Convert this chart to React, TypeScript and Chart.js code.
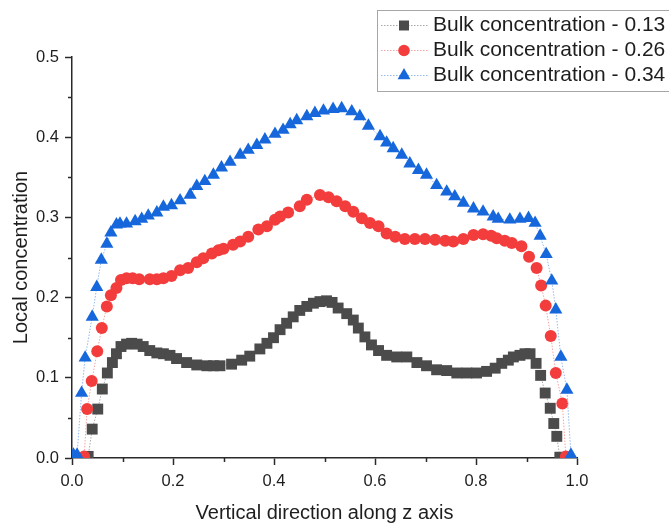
import React, { useEffect, useRef } from "react";
import { Chart, registerables } from "chart.js";

Chart.register(...registerables);

// ---------------- data ----------------
const seriesLabels = [
  "Bulk concentration - 0.13",
  "Bulk concentration - 0.26",
  "Bulk concentration - 0.34",
];

const grayX = [0.032, 0.040, 0.051, 0.060, 0.070, 0.080, 0.088, 0.097, 0.108, 0.118, 0.129, 0.141, 0.154, 0.168, 0.181, 0.194, 0.207, 0.227, 0.247, 0.267, 0.280, 0.293, 0.316, 0.336, 0.352, 0.372, 0.386, 0.399, 0.412, 0.425, 0.438, 0.451, 0.465, 0.478, 0.491, 0.504, 0.515, 0.527, 0.544, 0.557, 0.567, 0.580, 0.593, 0.607, 0.623, 0.643, 0.663, 0.683, 0.702, 0.722, 0.742, 0.762, 0.782, 0.801, 0.821, 0.838, 0.851, 0.864, 0.874, 0.887, 0.897, 0.907, 0.919, 0.928, 0.937, 0.947, 0.954, 0.960, 0.966];
const grayY = [0.002, 0.036, 0.061, 0.086, 0.106, 0.119, 0.130, 0.139, 0.142, 0.143, 0.142, 0.139, 0.134, 0.131, 0.130, 0.128, 0.124, 0.119, 0.116, 0.115, 0.115, 0.115, 0.117, 0.122, 0.127, 0.136, 0.143, 0.150, 0.160, 0.168, 0.176, 0.184, 0.189, 0.193, 0.195, 0.196, 0.194, 0.187, 0.180, 0.172, 0.162, 0.151, 0.141, 0.134, 0.128, 0.126, 0.126, 0.119, 0.115, 0.110, 0.109, 0.106, 0.106, 0.106, 0.108, 0.112, 0.118, 0.122, 0.126, 0.128, 0.130, 0.130, 0.118, 0.103, 0.081, 0.062, 0.043, 0.027, 0.001];

const redX = [0.024, 0.030, 0.039, 0.050, 0.059, 0.069, 0.077, 0.088, 0.097, 0.108, 0.120, 0.133, 0.154, 0.168, 0.181, 0.197, 0.214, 0.230, 0.247, 0.260, 0.277, 0.290, 0.300, 0.319, 0.333, 0.349, 0.369, 0.386, 0.402, 0.412, 0.428, 0.451, 0.465, 0.491, 0.508, 0.524, 0.541, 0.557, 0.574, 0.590, 0.607, 0.623, 0.640, 0.659, 0.679, 0.699, 0.719, 0.739, 0.755, 0.775, 0.795, 0.814, 0.830, 0.841, 0.857, 0.871, 0.890, 0.905, 0.920, 0.929, 0.938, 0.948, 0.958, 0.971, 0.978];
const redY = [0.002, 0.061, 0.096, 0.133, 0.162, 0.189, 0.203, 0.212, 0.222, 0.224, 0.224, 0.223, 0.223, 0.223, 0.224, 0.227, 0.234, 0.237, 0.244, 0.249, 0.255, 0.259, 0.261, 0.266, 0.270, 0.276, 0.285, 0.289, 0.297, 0.301, 0.306, 0.314, 0.322, 0.328, 0.325, 0.320, 0.314, 0.307, 0.299, 0.293, 0.289, 0.280, 0.276, 0.273, 0.273, 0.273, 0.272, 0.271, 0.270, 0.273, 0.278, 0.279, 0.277, 0.274, 0.271, 0.268, 0.264, 0.251, 0.237, 0.215, 0.190, 0.152, 0.106, 0.068, 0.002];

const blueX = [0.003, 0.010, 0.019, 0.026, 0.040, 0.049, 0.058, 0.069, 0.077, 0.088, 0.095, 0.108, 0.125, 0.138, 0.151, 0.168, 0.181, 0.197, 0.214, 0.234, 0.247, 0.263, 0.280, 0.296, 0.313, 0.333, 0.349, 0.366, 0.382, 0.402, 0.418, 0.432, 0.445, 0.465, 0.481, 0.498, 0.517, 0.534, 0.554, 0.570, 0.587, 0.610, 0.623, 0.636, 0.653, 0.669, 0.686, 0.702, 0.722, 0.742, 0.758, 0.775, 0.795, 0.814, 0.834, 0.844, 0.867, 0.887, 0.904, 0.917, 0.927, 0.939, 0.950, 0.958, 0.968, 0.980, 0.988];
const blueY = [0.004, 0.004, 0.081, 0.125, 0.176, 0.213, 0.247, 0.267, 0.281, 0.291, 0.292, 0.292, 0.295, 0.298, 0.302, 0.306, 0.313, 0.315, 0.321, 0.328, 0.339, 0.345, 0.353, 0.362, 0.369, 0.378, 0.384, 0.390, 0.397, 0.404, 0.409, 0.416, 0.421, 0.426, 0.430, 0.433, 0.435, 0.436, 0.432, 0.426, 0.414, 0.401, 0.393, 0.386, 0.378, 0.367, 0.359, 0.353, 0.340, 0.332, 0.326, 0.318, 0.311, 0.307, 0.301, 0.298, 0.297, 0.298, 0.299, 0.293, 0.277, 0.254, 0.221, 0.185, 0.126, 0.085, 0.004];

const xTickLabels = ["0.0", "0.2", "0.4", "0.6", "0.8", "1.0"];
const yTickLabels = ["0.0", "0.1", "0.2", "0.3", "0.4", "0.5"];

// ---------------- styles ----------------
const FONT = '"Liberation Sans", Arial, Helvetica, sans-serif';
const markerColors = ["#4b4b4b", "#f33d3d", "#1767dc"];
const lineColors = ["#a8a8a8", "#f5a3a3", "#93b8f0"];
const pointStyles = ["rect", "circle", "triangle"];
const pointRadii = [7.7, 6, 7.6];
const AXIS = "#2a2a2a";

function drawMarker(ctx: CanvasRenderingContext2D, style: string, x: number, y: number, color: string) {
  ctx.fillStyle = color;
  ctx.beginPath();
  if (style === "rect") {
    ctx.rect(x - 5, y - 5, 10, 10);
  } else if (style === "circle") {
    ctx.arc(x, y, 5.8, 0, Math.PI * 2);
  } else {
    const r = 7.4;
    ctx.moveTo(x, y - r);
    ctx.lineTo(x + r * Math.sin(Math.PI / 3), y + r / 2);
    ctx.lineTo(x - r * Math.sin(Math.PI / 3), y + r / 2);
    ctx.closePath();
  }
  ctx.fill();
}

const legendPlugin = {
  id: "boxLegend",
  afterDraw(chart: any) {
    const ctx: CanvasRenderingContext2D = chart.ctx;
    ctx.save();
    ctx.strokeStyle = "#a6a6a6";
    ctx.lineWidth = 1;
    ctx.strokeRect(377.5, 10.5, 300, 81);
    seriesLabels.forEach((label, i) => {
      const y = 25.5 + i * 25;
      ctx.save();
      ctx.setLineDash([1.5, 1.5]);
      ctx.strokeStyle = lineColors[i];
      ctx.lineWidth = 1;
      ctx.beginPath();
      ctx.moveTo(381, y);
      ctx.lineTo(428, y);
      ctx.stroke();
      ctx.restore();
      drawMarker(ctx, pointStyles[i], 404, y, markerColors[i]);
      ctx.fillStyle = "#1e1e1e";
      ctx.font = `21px ${FONT}`;
      ctx.textBaseline = "middle";
      ctx.textAlign = "left";
      ctx.fillText(label, 433, y);
    });
    ctx.restore();
  },
};

const isMajor = (v: number, step: number) => Math.abs(v / step - Math.round(v / step)) < 1e-6;

const minorTickPlugin = {
  id: "minorTicks",
  afterDraw(chart: any) {
    const ctx: CanvasRenderingContext2D = chart.ctx;
    const xs = chart.scales.x;
    const ys = chart.scales.y;
    ctx.save();
    ctx.strokeStyle = AXIS;
    ctx.lineWidth = 1.5;
    ctx.beginPath();
    xs.ticks.forEach((t: any) => {
      if (!isMajor(t.value, 0.2)) {
        const px = Math.round(xs.getPixelForValue(t.value)) + 0.5;
        ctx.moveTo(px, xs.top);
        ctx.lineTo(px, xs.top + 4);
      }
    });
    ys.ticks.forEach((t: any) => {
      if (!isMajor(t.value, 0.1)) {
        const py = Math.round(ys.getPixelForValue(t.value)) + 0.5;
        ctx.moveTo(ys.right, py);
        ctx.lineTo(ys.right - 4, py);
      }
    });
    ctx.stroke();
    ctx.restore();
  },
};

function makeData(xs: number[], ys: number[]) {
  return xs.map((x, i) => ({ x, y: ys[i] }));
}

export default function App() {
  const ref = useRef<HTMLCanvasElement | null>(null);

  useEffect(() => {
    document.body.style.margin = "0";
    const canvas = ref.current;
    if (!canvas) return;
    const sets = [
      makeData(grayX, grayY),
      makeData(redX, redY),
      makeData(blueX, blueY),
    ];
    const chart = new Chart(canvas, {
      type: "scatter",
      data: {
        datasets: sets.map((d, i) => ({
          label: seriesLabels[i],
          data: d,
          showLine: true,
          borderColor: lineColors[i],
          borderWidth: 1,
          borderDash: [1.5, 1.5],
          backgroundColor: markerColors[i],
          pointStyle: pointStyles[i] as any,
          pointRadius: pointRadii[i],
          pointBackgroundColor: markerColors[i],
          pointBorderColor: markerColors[i],
          pointBorderWidth: 0,
          pointHoverRadius: pointRadii[i],
          order: 3 - i,
        })),
      },
      options: {
        animation: false,
        responsive: false,
        devicePixelRatio: 1,
        events: [],
        layout: { padding: { left: 0, top: 57, right: 92, bottom: 0 } },
        plugins: {
          legend: { display: false },
          tooltip: { enabled: false },
          title: { display: false },
        },
        scales: {
          x: {
            type: "linear",
            min: 0,
            max: 1,
            afterFit: (s: any) => {
              s.height = 68;
            },
            border: { display: true, color: AXIS, width: 1.5 },
            grid: {
              display: true,
              drawOnChartArea: false,
              drawTicks: true,
              tickLength: 7,
              tickWidth: 1.5,
              tickColor: (c: any) => (c.tick && isMajor(c.tick.value, 0.2) ? AXIS : "rgba(0,0,0,0)"),
            },
            ticks: {
              stepSize: 0.1,
              autoSkip: false,
              maxRotation: 0,
              padding: 7,
              color: "#1e1e1e",
              font: { family: FONT, size: 16.5 },
              callback: (v: any) => {
                const idx = Math.round(Number(v) / 0.2);
                return isMajor(Number(v), 0.2) ? xTickLabels[idx] : "";
              },
            },
            title: {
              display: true,
              text: "Vertical direction along z axis",
              color: "#1e1e1e",
              font: { family: FONT, size: 20 },
              padding: { top: 0, bottom: 1 },
            },
          },
          y: {
            type: "linear",
            min: 0,
            max: 0.5,
            afterFit: (s: any) => {
              s.width = 72;
            },
            border: { display: true, color: AXIS, width: 1.5 },
            grid: {
              display: true,
              drawOnChartArea: false,
              drawTicks: true,
              tickLength: 7,
              tickWidth: 1.5,
              tickColor: (c: any) => (c.tick && isMajor(c.tick.value, 0.1) ? AXIS : "rgba(0,0,0,0)"),
            },
            ticks: {
              stepSize: 0.05,
              autoSkip: false,
              padding: 6,
              color: "#1e1e1e",
              font: { family: FONT, size: 16.5 },
              callback: (v: any) => {
                const idx = Math.round(Number(v) / 0.1);
                return isMajor(Number(v), 0.1) ? yTickLabels[idx] : "";
              },
            },
            title: {
              display: true,
              text: "Local concentration",
              color: "#1e1e1e",
              font: { family: FONT, size: 20 },
              padding: { top: 9, bottom: 0 },
            },
          },
        },
      },
      plugins: [minorTickPlugin, legendPlugin],
    });
    return () => chart.destroy();
  }, []);

  return (
    <div style={{ width: 669, height: 526, position: "relative" }}>
      <canvas ref={ref} width={669} height={526} style={{ display: "block" }} />
    </div>
  );
}
